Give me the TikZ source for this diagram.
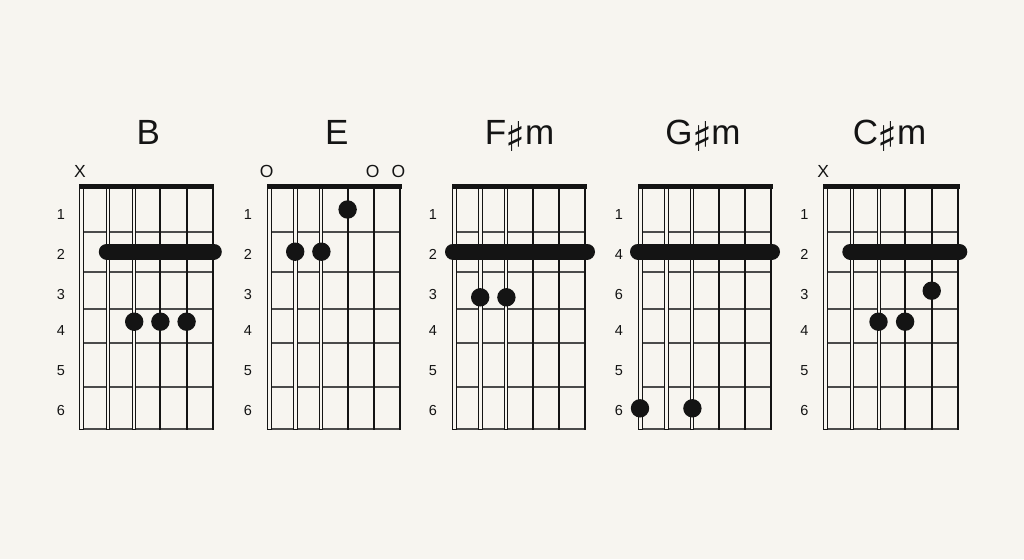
\documentclass[tikz,border=0pt]{standalone}
\usepackage{fontspec}
\setmainfont{Liberation Sans}
\newfontfamily\symfont{DejaVu Sans}
\definecolor{bg}{RGB}{247,245,240}
\definecolor{fretc}{RGB}{75,75,75}
\definecolor{strc}{RGB}{20,20,20}
\newcommand{\sh}{\kern-0.5pt\raisebox{-7pt}{\resizebox*{!}{30pt}{\raisebox{\depth}{\symfont\char"266F}}}\kern-0.5pt}
\tikzset{
  fretline/.style={draw=fretc,line width=1.8pt},
  solidstr/.style={draw=strc,line width=1.9pt},
  woundstr/.style={fill=bg,draw=strc,line width=0.9pt},
  nutbar/.style={fill=strc},
  barrebar/.style={draw=strc,line width=16pt,line cap=round},
  fingerdot/.style={circle,fill=strc,inner sep=0pt,minimum size=18.4pt},
  fretlab/.style={anchor=base,inner sep=0pt,font=\fontsize{14.5}{16}\selectfont,text=strc},
  openmark/.style={anchor=base,inner sep=0pt,font=\fontsize{17.5}{20}\selectfont,text=strc},
  chordtitle/.style={anchor=base,inner sep=0pt,font=\fontsize{35}{40}\selectfont,text=strc},
}
\newcommand{\grid}[4]{%
  % #1 x0, #2 id, #3 spacing, #4 labels
  \begin{scope}[shift={(#1,0)}]
    \foreach \yy in {231.7,271.7,309.3,343.3,386.7,429}
      \draw[fretline] (0,\yy) -- (5*#3,\yy);
    \foreach \i in {3,4,5}
      \draw[solidstr] (\i*#3,189) -- (\i*#3,429.8);
    \foreach \i/\w in {0/4,1/3.5,2/3}
      \filldraw[woundstr] (\i*#3-\w/2,188) rectangle (\i*#3+\w/2,429.5);
    \fill[nutbar] (-2.5,184) rectangle (5*#3+1.5,189);
    \foreach \t [count=\k] in {#4} {
      \pgfmathsetmacro{\ly}{{219,259,299,335.7,375,415}[\k-1]}
      \node[fretlab] (#2-l\k) at (-21,\ly) {\t};
    }
  \end{scope}
}
\begin{document}
\begin{tikzpicture}[x=1pt,y=-1pt]
\fill[bg] (0,0) rectangle (1024,559);
\useasboundingbox (0,0) rectangle (1024,559);

% ---------- B ----------
\grid{81.8}{B}{26.2}{1,2,3,4,5,6}
\node[chordtitle] (tB) at (148.3,144.3) {B};
\node[openmark] (xB) at (80,177) {X};
\coordinate (bB1) at (81.8+25,251.5);
\coordinate (bB2) at (81.8+132,251.5);
\draw[barrebar] (bB1) -- (bB2);
\node[fingerdot] (dB1) at (81.8+2*26.2,321.7) {};
\node[fingerdot] (dB2) at (81.8+3*26.2,321.7) {};
\node[fingerdot] (dB3) at (81.8+4*26.2,321.7) {};

% ---------- E ----------
\grid{269}{E}{26.2}{1,2,3,4,5,6}
\node[chordtitle] (tE) at (336.7,144.3) {E};
\node[openmark] (oE1) at (266.7,177) {O};
\node[openmark] (oE2) at (372.7,177) {O};
\node[openmark] (oE3) at (398.5,177) {O};
\node[fingerdot] (dE1) at (269+3*26.2,209.5) {};
\node[fingerdot] (dE2) at (269+1*26.2,251.7) {};
\node[fingerdot] (dE3) at (269+2*26.2,251.7) {};

% ---------- F#m ----------
\grid{454}{F}{26.2}{1,2,3,4,5,6}
\node[chordtitle] (tF) at (519.5,144.3) {F\sh m};
\coordinate (bF1) at (454-1,251.5);
\coordinate (bF2) at (454+133,251.5);
\draw[barrebar] (bF1) -- (bF2);
\node[fingerdot] (dF1) at (454+1*26.2,297.3) {};
\node[fingerdot] (dF2) at (454+2*26.2,297.3) {};

% ---------- G#m ----------
\grid{640}{G}{26.2}{1,4,6,4,5,6}
\node[chordtitle] (tG) at (703,144.3) {G\sh m};
\coordinate (bG1) at (640-2,251.5);
\coordinate (bG2) at (640+132,251.5);
\draw[barrebar] (bG1) -- (bG2);
\node[fingerdot] (dG1) at (640,408.3) {};
\node[fingerdot] (dG2) at (640+2*26.2,408.3) {};

% ---------- C#m ----------
\grid{825.3}{C}{26.6}{1,2,3,4,5,6}
\node[chordtitle] (tC) at (889.5,144.3) {C\sh m};
\node[openmark] (xC) at (823.3,177) {X};
\coordinate (bC1) at (825.3+25,251.5);
\coordinate (bC2) at (825.3+134,251.5);
\draw[barrebar] (bC1) -- (bC2);
\node[fingerdot] (dC1) at (825.3+2*26.6,321.7) {};
\node[fingerdot] (dC2) at (825.3+3*26.6,321.7) {};
\node[fingerdot] (dC3) at (825.3+4*26.6,290.7) {};
\end{tikzpicture}
\end{document}
